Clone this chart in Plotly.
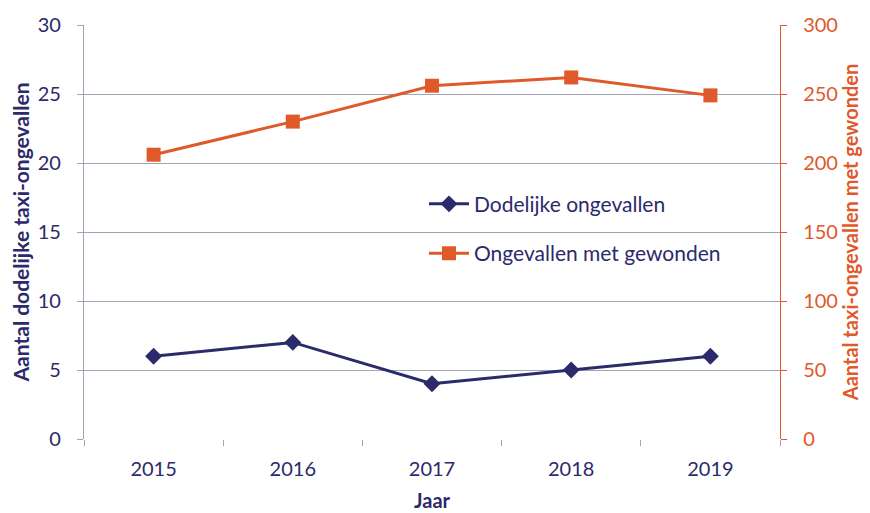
import plotly.graph_objects as go

years = ["2015", "2016", "2017", "2018", "2019"]
dodelijk = [6, 7, 4, 5, 6]
gewonden = [206, 230, 256, 262, 249]

NAVY = "#2b2a6b"
ORANGE = "#e0592a"
GRID = "#a3a3b8"
FONT = "Lato, Open Sans, sans-serif"

fig = go.Figure()
fig.add_trace(go.Scatter(
    x=years, y=dodelijk, name="Dodelijke ongevallen", mode="lines+markers",
    line=dict(color=NAVY, width=3), marker=dict(symbol="diamond", size=13, color=NAVY),
    legendgroup="a", yaxis="y"))
fig.add_trace(go.Scatter(
    x=years, y=gewonden, name="Ongevallen met gewonden", mode="lines+markers",
    line=dict(color=ORANGE, width=3), marker=dict(symbol="square", size=14, color=ORANGE),
    legendgroup="b", yaxis="y2"))

fig.update_layout(
    width=870, height=513,
    margin=dict(l=76, r=98, t=17, b=82, autoexpand=False),
    paper_bgcolor="white", plot_bgcolor="white",
    font=dict(family=FONT, size=20, color=NAVY),
    xaxis=dict(
        type="category", tickson="boundaries", ticks="outside", ticklen=6,
        tickcolor=GRID, showgrid=False, showline=False, zeroline=False,
        tickfont=dict(size=20, color=NAVY), range=[-0.5, 4.5], ticklabelstandoff=16,
        automargin=False,
        title=dict(text="<b>Jaar</b>", font=dict(size=20, color=NAVY), standoff=14),
    ),
    yaxis=dict(
        range=[0, 30], dtick=5, showgrid=True, gridcolor=GRID, gridwidth=1.3,
        showline=True, linecolor=GRID, linewidth=1.3, ticks="outside", ticklen=6,
        tickcolor=GRID, zeroline=False, tickfont=dict(size=20, color=NAVY),
        ticklabelstandoff=12, automargin=False,
        title=dict(text="<b>Aantal dodelijke taxi-ongevallen</b>",
                   font=dict(size=21, color=NAVY), standoff=10),
    ),
    yaxis2=dict(
        range=[0, 300], dtick=50, overlaying="y", side="right", showgrid=False,
        showline=True, linecolor=ORANGE, linewidth=1.3, ticks="outside", ticklen=6,
        tickcolor=ORANGE, zeroline=False, tickfont=dict(size=20, color=ORANGE),
        ticklabelstandoff=12, automargin=False,
        title=dict(text="<b>Aantal taxi-ongevallen met gewonden</b>",
                   font=dict(size=20, color=ORANGE), standoff=7),
    ),
    legend=dict(
        x=0.4885, y=0.508, xanchor="left", yanchor="middle",
        bgcolor="rgba(0,0,0,0)", font=dict(size=21, color=NAVY),
        tracegroupgap=19, traceorder="grouped", itemwidth=40,
    ),
    showlegend=True,
)

fig.write_html("out.html")
